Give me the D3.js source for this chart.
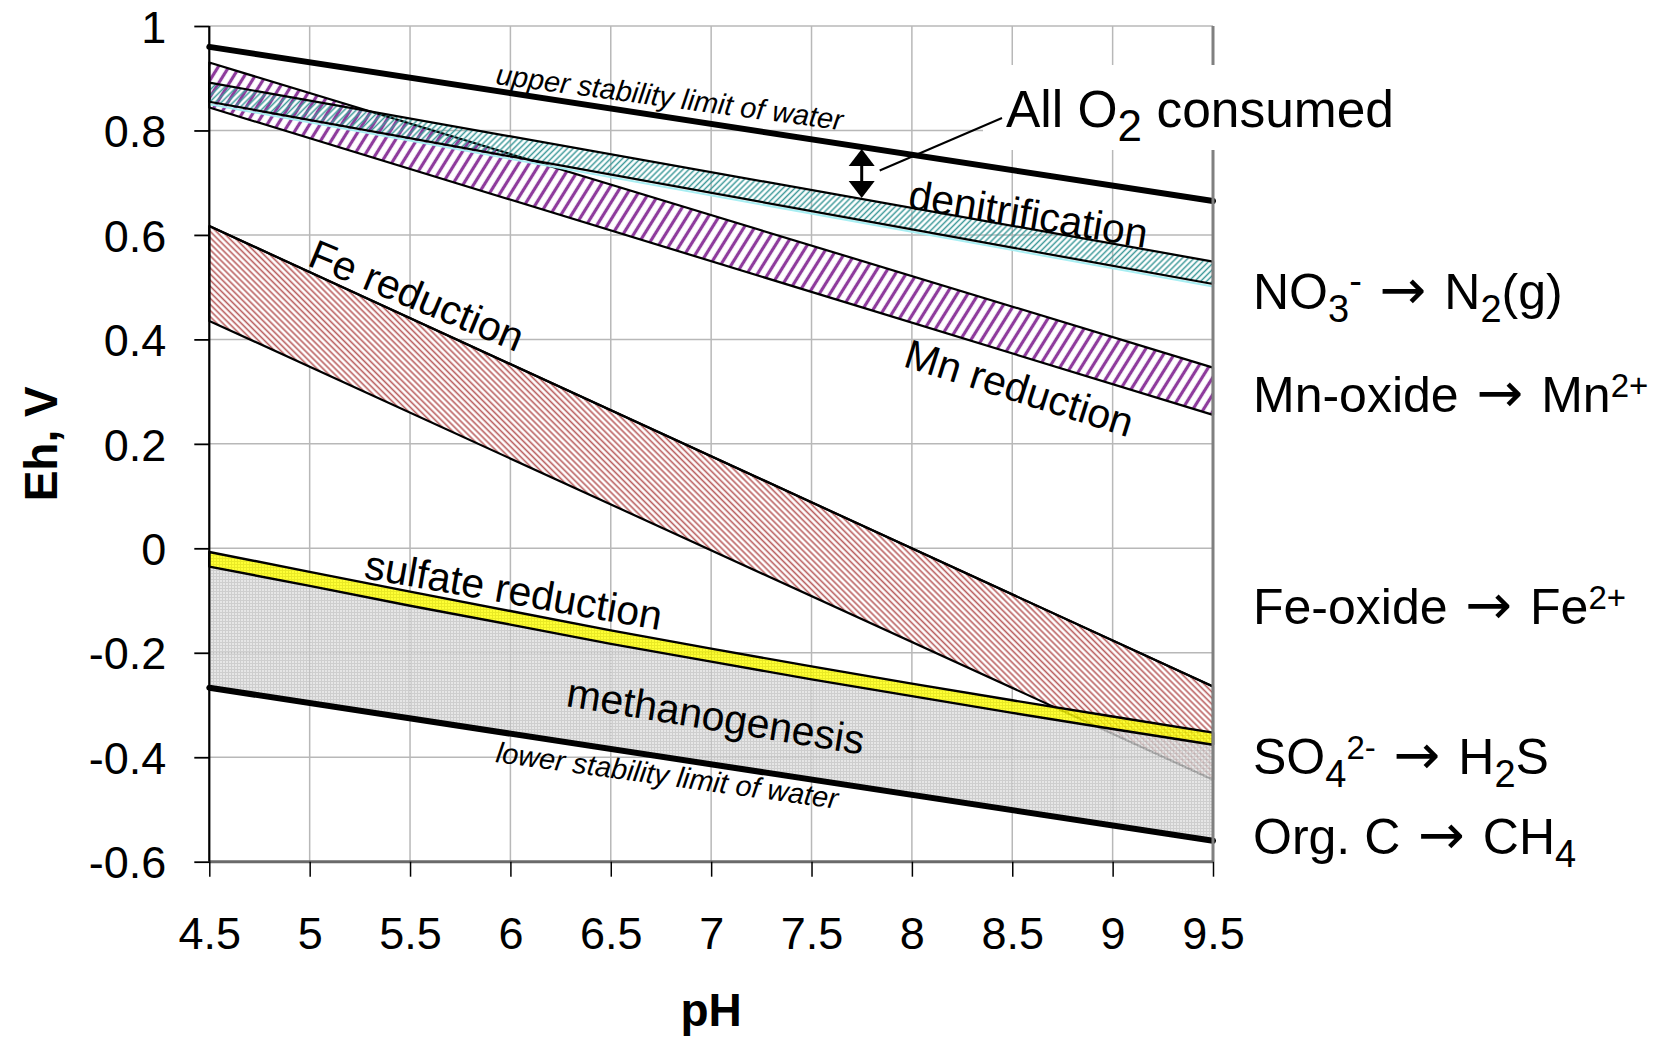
<!DOCTYPE html>
<html><head><meta charset="utf-8">
<script src="https://cdn.jsdelivr.net/npm/d3@7"></script>
<style>html,body{margin:0;padding:0;background:#fff;}svg{display:block;}</style>
</head><body>
<script>
// ---------- data ----------
const phTicks = [4.5, 5, 5.5, 6, 6.5, 7, 7.5, 8, 8.5, 9, 9.5];
const ehTicks = [1, 0.8, 0.6, 0.4, 0.2, 0, -0.2, -0.4, -0.6];
const phEnds = [4.5, 9.5];
const waterUpper = [0.96, 0.665];
const waterLower = [-0.267, -0.56];
const denitTop = [0.8915, 0.549];
const denitBottom = [0.855, 0.506];
const mnTop = [0.93, 0.346];
const mnBottom = [0.844, 0.2555];
const feTop = [0.617, -0.2645];
const feBottom = [0.4354, -0.443];
const phSulfate = [4.5, 5, 5.5, 6, 6.5, 7, 7.5, 8, 8.5, 9, 9.5];
const sulfateTop = [-0.007, -0.045, -0.083, -0.120, -0.157, -0.192, -0.226, -0.259, -0.291, -0.322, -0.353];
const sulfateBottom = [-0.035, -0.072, -0.110, -0.146, -0.183, -0.217, -0.251, -0.283, -0.315, -0.346, -0.376];
const bandLabels = ["upper stability limit of water", "lower stability limit of water", "denitrification",
  "Mn reduction", "Fe reduction", "sulfate reduction", "methanogenesis"];

// ---------- layout ----------
const W = 1676, H = 1042;
const FONT = "'Liberation Sans', Arial, Helvetica, sans-serif";
const ARROWFONT = "'DejaVu Sans', sans-serif";
const x = d3.scaleLinear().domain([4.5, 9.5]).range([209.3, 1213]);
const y = d3.scaleLinear().domain([-0.6, 1]).range([861.7, 26]);

const svg = d3.select("body").append("svg").attr("width", W).attr("height", H)
  .style("font-family", FONT);
svg.append("rect").attr("width", W).attr("height", H).attr("fill", "#fff");

const defs = svg.append("defs");
function hatch(id, w, angle, color, sw, bg) {
  const p = defs.append("pattern").attr("id", id).attr("patternUnits", "userSpaceOnUse")
    .attr("width", w).attr("height", w).attr("patternTransform", `rotate(${angle})`);
  if (bg) p.append("rect").attr("width", w).attr("height", w).attr("fill", bg);
  p.append("line").attr("x1", w / 2).attr("y1", -1).attr("x2", w / 2).attr("y2", w + 1)
    .attr("stroke", color).attr("stroke-width", sw);
}
hatch("mnPat", 9, 32, "#8e3b9c", 3.2, "#ffffff");
hatch("denPat", 4.2, 45, "#3f9a9a", 1.5, null);
hatch("fePat", 4.3, -45, "#b95e5e", 1.6, "#ffffff");
function grid(id, bg, line) {
  const p = defs.append("pattern").attr("id", id).attr("patternUnits", "userSpaceOnUse")
    .attr("width", 3).attr("height", 3);
  p.append("rect").attr("width", 3).attr("height", 3).attr("fill", bg);
  p.append("path").attr("d", "M0,0.5H3M0.5,0V3").attr("stroke", line).attr("stroke-width", 1).attr("fill", "none");
}
grid("methPat", "#e0e0e0", "#c2c2c2");
grid("sulPat", "#ffff10", "#e6e600");

// ---------- grid ----------
const g = svg.append("g");
g.selectAll(".vg").data(phTicks).join("line")
  .attr("x1", d => x(d)).attr("x2", d => x(d)).attr("y1", y(1)).attr("y2", y(-0.6))
  .attr("stroke", "#b8b8b8").attr("stroke-width", 1.5);
g.selectAll(".hg").data(ehTicks).join("line")
  .attr("x1", x(4.5)).attr("x2", x(9.5)).attr("y1", d => y(d)).attr("y2", d => y(d))
  .attr("stroke", "#b8b8b8").attr("stroke-width", 1.5);

// ---------- bands ----------
const lineGen = d3.line().x(d => x(d[0])).y(d => y(d[1]));
function band(phTop, top, phBot, bot) {
  const pts = phTop.map((p, i) => [p, top[i]])
    .concat(phBot.map((p, i) => [p, bot[i]]).reverse());
  return lineGen(pts) + "Z";
}
function pairs(ph, v) { return ph.map((p, i) => [p, v[i]]); }

// Fe band
g.append("path").attr("d", band(phEnds, feTop, phEnds, feBottom))
  .attr("fill", "url(#fePat)").attr("stroke", "#000").attr("stroke-width", 2.2).attr("stroke-linejoin", "round");

// methanogenesis
g.append("path").attr("d", band(phSulfate, sulfateBottom, phEnds, waterLower))
  .attr("fill", "url(#methPat)").attr("opacity", 0.8);

// sulfate
g.append("path").attr("d", band(phSulfate, sulfateTop, phSulfate, sulfateBottom))
  .attr("fill", "url(#sulPat)").attr("opacity", 0.85);
g.append("path").attr("d", band(phSulfate, sulfateTop, phSulfate, sulfateBottom))
  .attr("fill", "none").attr("stroke", "#000").attr("stroke-width", 2.4).attr("stroke-linejoin", "round");
g.append("path").attr("d", lineGen(pairs(phEnds, feTop)))
  .attr("fill", "none").attr("stroke", "#000").attr("stroke-width", 2.2);

// Mn band
g.append("path").attr("d", band(phEnds, mnTop, phEnds, mnBottom))
  .attr("fill", "url(#mnPat)").attr("stroke", "#000").attr("stroke-width", 2.2).attr("stroke-linejoin", "round");
// denitrification band
g.append("path").attr("d", lineGen(pairs(phEnds, denitBottom)))
  .attr("fill", "none").attr("stroke", "#a8eef2").attr("stroke-width", 2).attr("transform", "translate(0,2.5)");
g.append("path").attr("d", band(phEnds, denitTop, phEnds, denitBottom))
  .attr("fill", "url(#denPat)").attr("stroke", "#000").attr("stroke-width", 2.2).attr("stroke-linejoin", "round");

// water stability lines
g.append("path").attr("d", lineGen(pairs(phEnds, waterUpper)))
  .attr("fill", "none").attr("stroke", "#000").attr("stroke-width", 6).attr("stroke-linecap", "round");
g.append("path").attr("d", lineGen(pairs(phEnds, waterLower)))
  .attr("fill", "none").attr("stroke", "#000").attr("stroke-width", 6).attr("stroke-linecap", "round");

// ---------- axes frame ----------
g.append("line").attr("x1", x(9.5)).attr("x2", x(9.5)).attr("y1", y(1)).attr("y2", y(-0.6))
  .attr("stroke", "#808080").attr("stroke-width", 3);
g.append("line").attr("x1", x(4.5)).attr("x2", x(9.5)).attr("y1", y(-0.6)).attr("y2", y(-0.6))
  .attr("stroke", "#6a6a6a").attr("stroke-width", 3);
g.append("line").attr("x1", x(4.5)).attr("x2", x(4.5)).attr("y1", y(1)).attr("y2", y(-0.6))
  .attr("stroke", "#000").attr("stroke-width", 2.2);

const yAxis = d3.axisLeft(y).tickValues(ehTicks).tickSize(15).tickPadding(28)
  .tickFormat(d => String(d));
const ya = svg.append("g").attr("transform", `translate(${x(4.5)},0)`).call(yAxis);
ya.select(".domain").remove();
ya.selectAll(".tick line").attr("stroke", "#000").attr("stroke-width", 1.8);
ya.selectAll(".tick text").attr("font-size", 45).attr("font-family", FONT).attr("fill", "#000").attr("dy", "0.36em");

const xAxis = d3.axisBottom(x).tickValues(phTicks).tickSize(15).tickPadding(40)
  .tickFormat(d => String(d));
const xa = svg.append("g").attr("transform", `translate(0,${y(-0.6)})`).call(xAxis);
xa.select(".domain").remove();
xa.selectAll(".tick line").attr("stroke", "#000").attr("stroke-width", 1.5);
xa.selectAll(".tick text").attr("font-size", 45).attr("font-family", FONT).attr("fill", "#000");

svg.append("text").attr("transform", `translate(40,${(y(1) + y(-0.6)) / 2}) rotate(-90)`)
  .attr("text-anchor", "middle").attr("dy", "0.36em")
  .attr("font-size", 46).attr("font-weight", "bold").text("Eh, V");
svg.append("text").attr("x", (x(4.5) + x(9.5)) / 2).attr("y", 1026)
  .attr("text-anchor", "middle").attr("font-size", 46).attr("font-weight", "bold").text("pH");

// ---------- band labels ----------
const labelPos = [
  [5.923, 0.889, 7.6, 29, "italic"],
  [5.923, -0.409, 7.8, 29, "italic"],
  [7.976, 0.6515, 9.5, 41, "normal"],
  [7.951, 0.349, 17.5, 41, "normal"],
  [4.982, 0.5424, 22.5, 41, "normal"],
  [5.266, -0.0569, 10, 41, "normal"],
  [6.272, -0.302, 9.3, 41, "normal"]
];
bandLabels.forEach((t, i) => {
  const [p, e, a, fs, st] = labelPos[i];
  svg.append("text").attr("transform", `translate(${x(p)},${y(e)}) rotate(${a})`)
    .attr("font-size", fs).attr("font-style", st).text(t);
});

// ---------- annotation ----------
const upAt = d3.scaleLinear().domain(phEnds).range(waterUpper);
const denAt = d3.scaleLinear().domain(phEnds).range(denitTop);
const aph = 7.75;
svg.append("rect").attr("x", 983).attr("y", 65).attr("width", 440).attr("height", 85).attr("fill", "#fff");
const ax = x(aph), ay1 = y(upAt(aph)) + 2, ay2 = y(denAt(aph)) - 1;
svg.append("line").attr("x1", ax).attr("x2", ax).attr("y1", ay1 + 12).attr("y2", ay2 - 12)
  .attr("stroke", "#000").attr("stroke-width", 3);
svg.append("path").attr("d", `M${ax},${ay1}L${ax - 13},${ay1 + 17}L${ax + 13},${ay1 + 17}Z`).attr("fill", "#000");
svg.append("path").attr("d", `M${ax},${ay2}L${ax - 13},${ay2 - 17}L${ax + 13},${ay2 - 17}Z`).attr("fill", "#000");
svg.append("line").attr("x1", ax + 18).attr("y1", (ay1 + ay2) / 2 - 3).attr("x2", 1002).attr("y2", 118)
  .attr("stroke", "#000").attr("stroke-width", 2);
const at = svg.append("text").attr("x", 1006).attr("y", 127).attr("font-size", 51.5);
at.append("tspan").text("All O");
at.append("tspan").attr("dy", 14).attr("font-size", 44).text("2");
at.append("tspan").attr("dy", -14).text(" consumed");

// ---------- right-hand reaction labels ----------
function rich(yb, parts) {
  const t = svg.append("text").attr("x", 1253).attr("y", yb).attr("font-size", 50);
  parts.forEach(([s, dy, fs, ff]) => {
    const sp = t.append("tspan").text(s);
    if (dy) sp.attr("dy", dy);
    if (fs) sp.attr("font-size", fs);
    if (ff) sp.attr("font-family", ff);
  });
}
const ARW = [" \u2192 ", 0, 56, ARROWFONT];
rich(309, [["NO"], ["3", 13, 38], ["-", -28, 38], [" \u2192 ", 15, 56, ARROWFONT], ["N"], ["2", 13, 38], ["(g)", -13]]);
rich(412, [["Mn-oxide"], ARW, ["Mn"], ["2+", -15, 33]]);
rich(624, [["Fe-oxide"], ARW, ["Fe"], ["2+", -15, 33]]);
rich(774, [["SO"], ["4", 13, 38], ["2-", -28, 33], [" \u2192 ", 15, 56, ARROWFONT], ["H"], ["2", 13, 38], ["S", -13]]);
rich(854, [["Org. C"], ARW, ["CH"], ["4", 13, 38]]);
</script>
</body></html>
